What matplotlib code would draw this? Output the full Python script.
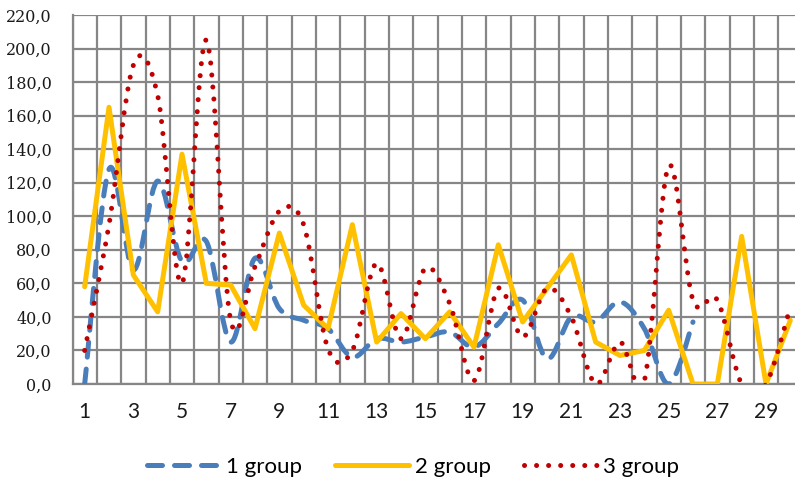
import matplotlib
matplotlib.use("Agg")
import matplotlib.pyplot as plt
from matplotlib.path import Path
from matplotlib.patches import PathPatch
from matplotlib.lines import Line2D
from matplotlib.ticker import FixedLocator, FuncFormatter

# values per measurement index (1..30)
grupo1 = [0, 128, 68, 121, 73, 85, 25, 75, 45, 38,
          33, 16, 27, 25, 28, 31, 22, 36, 50, 15,
          40, 37, 49, 33, 0, 37]
grupo2 = [58, 165, 65, 43, 137, 60, 59, 33, 90, 47,
          33, 95, 25, 42, 27, 43, 22, 83, 37, 57,
          77, 25, 17, 20, 44, 0, 0, 88, 0, 38]
grupo3 = [20, 95, 190, 172, 60, 205, 38, 70, 103, 95,
          21, 20, 72, 27, 69, 48, 2, 57, 28, 57,
          40, 0, 25, 2, 130, 50, 50, 0, 0, 46]
rotulos = ["1 group", "2 group", "3 group"]

AZUL = "#4a7ebb"
AMARELO = "#ffc000"
VERMELHO = "#c00000"
CINZA = "#868686"


def curva_suave(ys):
    # Catmull-Rom passando pelos pontos, convertida em segmentos Bezier cubicos
    xs = list(range(1, len(ys) + 1))
    pts = list(zip(xs, ys))
    verts = [pts[0]]
    codes = [Path.MOVETO]
    n = len(pts)
    for i in range(n - 1):
        p0 = pts[i - 1] if i > 0 else pts[i]
        p1 = pts[i]
        p2 = pts[i + 1]
        p3 = pts[i + 2] if i + 2 < n else pts[i + 1]
        c1 = (p1[0] + (p2[0] - p0[0]) / 6, p1[1] + (p2[1] - p0[1]) / 6)
        c2 = (p2[0] - (p3[0] - p1[0]) / 6, p2[1] - (p3[1] - p1[1]) / 6)
        verts += [c1, c2, p2]
        codes += [Path.CURVE4] * 3
    return Path(verts, codes)


fig = plt.figure(figsize=(7.95, 4.9), dpi=100)
ax = fig.add_axes([72.5 / 795, 106 / 490, 730 / 795, 369 / 490])

estilo1 = dict(color=AZUL, linewidth=3.6, linestyle=(0, (3.0, 2.4)),
               capstyle="round", joinstyle="round")
estilo2 = dict(color=AMARELO, linewidth=3.6, solid_joinstyle="round",
               solid_capstyle="round")
estilo3 = dict(color=VERMELHO, linewidth=3.6, linestyle=(0, (0.01, 2.4)),
               capstyle="round", joinstyle="round")

ax.add_patch(PathPatch(curva_suave(grupo1), fill=False, zorder=3, **estilo1))
ax.plot(range(1, len(grupo2) + 1), grupo2, zorder=4, **estilo2)
ax.add_patch(PathPatch(curva_suave(grupo3), fill=False, zorder=5, **estilo3))

ax.set_xlim(0.5, 30.5)
ax.set_ylim(0, 220)

ax.xaxis.set_major_locator(FixedLocator(range(1, 31, 2)))
ax.xaxis.set_minor_locator(FixedLocator([i + 0.5 for i in range(0, 31)]))
ax.yaxis.set_major_locator(FixedLocator(range(0, 221, 20)))
ax.yaxis.set_major_formatter(FuncFormatter(lambda v, p: f"{v:.1f}".replace(".", ",")))

ax.grid(which="minor", axis="x", color=CINZA, linewidth=1.6)
ax.grid(which="major", axis="y", color=CINZA, linewidth=1.6)
ax.set_axisbelow(True)

ax.tick_params(axis="x", which="both", length=0, pad=13, labelsize=15)
ax.tick_params(axis="y", length=0, pad=15)
for t in ax.get_xticklabels():
    t.set_fontfamily("Lato")
    t.set_color("#1a1a1a")
for t in ax.get_yticklabels():
    t.set_fontfamily("DejaVu Serif")
    t.set_fontsize(11.5)
    t.set_color("#1a1a1a")

for lado in ["top", "right"]:
    ax.spines[lado].set_visible(False)
for lado in ["left", "bottom"]:
    ax.spines[lado].set_color(CINZA)
    ax.spines[lado].set_linewidth(1.6)

alcas = [
    Line2D([], [], color=AZUL, linewidth=3.6, linestyle=(0, (3.0, 2.4)),
           dash_capstyle="round"),
    Line2D([], [], color=AMARELO, linewidth=3.6, solid_capstyle="round"),
    Line2D([], [], color=VERMELHO, linewidth=3.6, linestyle=(0, (0.01, 2.4)),
           dash_capstyle="round"),
]
fig.legend(alcas, rotulos, loc="center", bbox_to_anchor=(413 / 795, 23 / 490),
           ncol=3, frameon=False, handlelength=3.3, handletextpad=0.27,
           columnspacing=1.5, prop={"family": "Lato", "size": 16})

fig.savefig("out.png", dpi=100)
